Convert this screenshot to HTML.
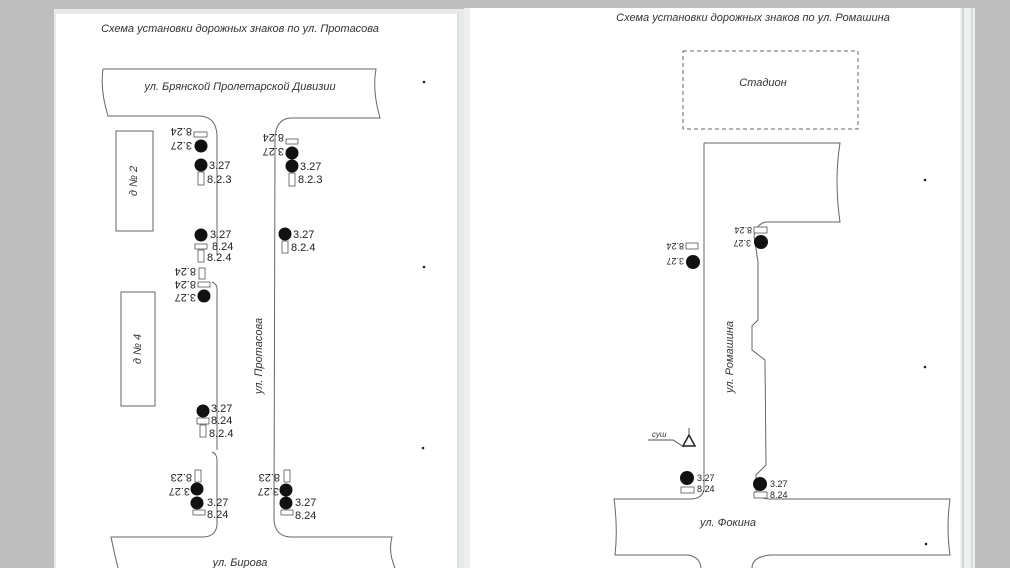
<!DOCTYPE html>
<html><head><meta charset="utf-8"><style>
html,body{margin:0;padding:0;background:#bebebe;}
svg{display:block}
text{font-family:"Liberation Sans",sans-serif;font-style:italic;fill:#333;}
.n text{font-family:"Liberation Sans Narrow","Liberation Sans",sans-serif;font-style:normal;fill:#222;font-size:11px;}
.n text.s{font-size:9px;}
</style></head><body>
<svg width="1010" height="568" viewBox="0 0 1010 568" xmlns="http://www.w3.org/2000/svg">
<rect x="0" y="0" width="1010" height="568" fill="#bebebe"/>
<rect x="54" y="9" width="410" height="559" fill="#e8eaea"/>
<rect x="56" y="14" width="403" height="554" fill="#fff"/>
<line x1="458" y1="14" x2="458" y2="568" stroke="#d8dde0" stroke-width="2"/>
<rect x="464" y="8" width="511" height="560" fill="#eef0f0"/>
<rect x="470" y="8" width="490" height="560" fill="#fff"/>
<line x1="963" y1="8" x2="963" y2="568" stroke="#d0d6d8" stroke-width="2"/>
<line x1="972" y1="8" x2="972" y2="568" stroke="#d8dcdc" stroke-width="2"/>

<g fill="none" stroke="#666" stroke-width="1">
<path d="M103,69 L376,69 Q372,90 380,118 L292,118 Q276,118 275,138 L274,520 Q275,536 290,537 L392,537 Q388,552 395,568"/>
<path d="M103,69 Q100,90 108,116 L200,116 Q216,117 217,135 L217,255"/>
<path d="M212,282 Q218,284 217,292 L217,450"/>
<path d="M212,452 Q217,454 217,460 L217,525 Q216,536 204,537 L111,537 Q114,552 118,568"/>
<rect x="116" y="131" width="37" height="100"/>
<rect x="121" y="292" width="34" height="114"/>
<rect x="683" y="51" width="175" height="78" stroke-dasharray="4,3"/>
<path d="M704,143 L840,143 Q834,180 840,222 L766,222 Q756,224 754,236 L758,262 L758,320 L752,326 L752,350 L765,360 L766,465 L756,475 L756,490 Q758,499 770,499 L950,499 Q946,528 950,555 L770,555 Q752,557 752,568"/>
<path d="M704,143 L704,490 Q702,499 690,499 L614,499 Q618,528 615,555 L688,555 Q700,557 701,568"/>
</g>

<text x="240" y="32" font-size="11" text-anchor="middle">Схема установки дорожных знаков по ул. Протасова</text>
<text x="240" y="90" font-size="11" text-anchor="middle">ул. Брянской Пролетарской Дивизии</text>
<text x="240" y="566" font-size="11" text-anchor="middle">ул. Бирова</text>
<text transform="translate(262,356) rotate(-90)" font-size="11" text-anchor="middle">ул. Протасова</text>
<text transform="translate(137,181) rotate(-90)" font-size="11" text-anchor="middle">д № 2</text>
<text transform="translate(141,349) rotate(-90)" font-size="11" text-anchor="middle">д № 4</text>
<text x="753" y="21" font-size="11" text-anchor="middle">Схема установки дорожных знаков по ул. Ромашина</text>
<text x="763" y="86" font-size="11" text-anchor="middle">Стадион</text>
<text x="728" y="526" font-size="11" text-anchor="middle">ул. Фокина</text>
<text transform="translate(733,357) rotate(-90)" font-size="11" text-anchor="middle">ул. Ромашина</text>
<text x="652" y="437" font-size="8">суш</text>
<path d="M648,440 L673,440 L684,447" fill="none" stroke="#555"/>
<path d="M689,435 L695,446 L683,446 Z" fill="none" stroke="#222" stroke-width="1.5"/>
<line x1="689" y1="428" x2="689" y2="435" stroke="#555"/>

<g fill="#111">
<circle cx="201" cy="146" r="6.5"/><circle cx="201" cy="165" r="6.5"/>
<circle cx="292" cy="153" r="6.5"/><circle cx="292" cy="166" r="6.5"/>
<circle cx="201" cy="235" r="6.5"/><circle cx="285" cy="234" r="6.5"/>
<circle cx="204" cy="296" r="6.5"/><circle cx="203" cy="411" r="6.5"/>
<circle cx="197" cy="489" r="6.5"/><circle cx="197" cy="503" r="6.5"/>
<circle cx="286" cy="490" r="6.5"/><circle cx="286" cy="503" r="6.5"/>
<circle cx="693" cy="262" r="7"/><circle cx="761" cy="242" r="7"/>
<circle cx="687" cy="478" r="7"/><circle cx="760" cy="484" r="7"/>
</g>
<g fill="#fff" stroke="#555" stroke-width="0.8">
<rect x="194" y="132" width="13" height="5"/><rect x="198" y="172" width="6" height="13"/>
<rect x="286" y="139" width="12" height="5"/><rect x="289" y="173" width="6" height="13"/>
<rect x="195" y="244" width="12" height="5"/><rect x="198" y="250" width="6" height="12"/>
<rect x="282" y="241" width="6" height="12"/>
<rect x="199" y="268" width="6" height="11"/><rect x="198" y="282" width="12" height="5"/>
<rect x="197" y="418" width="12" height="6"/><rect x="200" y="425" width="6" height="12"/>
<rect x="195" y="470" width="6" height="12"/><rect x="193" y="510" width="12" height="5"/>
<rect x="284" y="470" width="6" height="12"/><rect x="281" y="510" width="12" height="5"/>
<rect x="686" y="243" width="12" height="6"/><rect x="754" y="227" width="13" height="6"/>
<rect x="681" y="487" width="13" height="6"/><rect x="754" y="492" width="13" height="6"/>
</g>
<g class="n">
<text x="209" y="169">3.27</text><text x="207" y="183">8.2.3</text>
<text x="300" y="170">3.27</text><text x="298" y="183">8.2.3</text>
<text x="210" y="238">3.27</text><text x="212" y="250">8.24</text><text x="207" y="261">8.2.4</text>
<text x="293" y="238">3.27</text><text x="291" y="251">8.2.4</text>
<text x="211" y="412">3.27</text><text x="211" y="424">8.24</text><text x="209" y="437">8.2.4</text>
<text x="207" y="506">3.27</text><text x="207" y="518">8.24</text>
<text x="295" y="506">3.27</text><text x="295" y="519">8.24</text>
<text class="s" x="697" y="481">3.27</text><text class="s" x="697" y="492">8.24</text>
<text class="s" x="770" y="487">3.27</text><text class="s" x="770" y="498">8.24</text>
</g>
<g class="n">
<text transform="translate(192,128) rotate(180)">8.24</text>
<text transform="translate(192,142) rotate(180)">3.27</text>
<text transform="translate(284,134) rotate(180)">8.24</text>
<text transform="translate(284,148) rotate(180)">3.27</text>
<text transform="translate(196,268) rotate(180)">8.24</text>
<text transform="translate(196,281) rotate(180)">8.24</text>
<text transform="translate(196,294) rotate(180)">3.27</text>
<text transform="translate(192,474) rotate(180)">8.23</text>
<text transform="translate(190,488) rotate(180)">3.27</text>
<text transform="translate(280,474) rotate(180)">8.23</text>
<text transform="translate(279,488) rotate(180)">3.27</text>
<text class="s" transform="translate(684,243) rotate(180)">8.24</text>
<text class="s" transform="translate(684,258) rotate(180)">3.27</text>
<text class="s" transform="translate(752,227) rotate(180)">8.24</text>
<text class="s" transform="translate(751,240) rotate(180)">3.27</text>
</g>
<g fill="#222">
<circle cx="424" cy="82" r="1.3"/><circle cx="424" cy="267" r="1.3"/><circle cx="423" cy="448" r="1.3"/>
<circle cx="925" cy="180" r="1.3"/><circle cx="925" cy="367" r="1.3"/><circle cx="926" cy="544" r="1.3"/>
</g>
</svg>
</body></html>
